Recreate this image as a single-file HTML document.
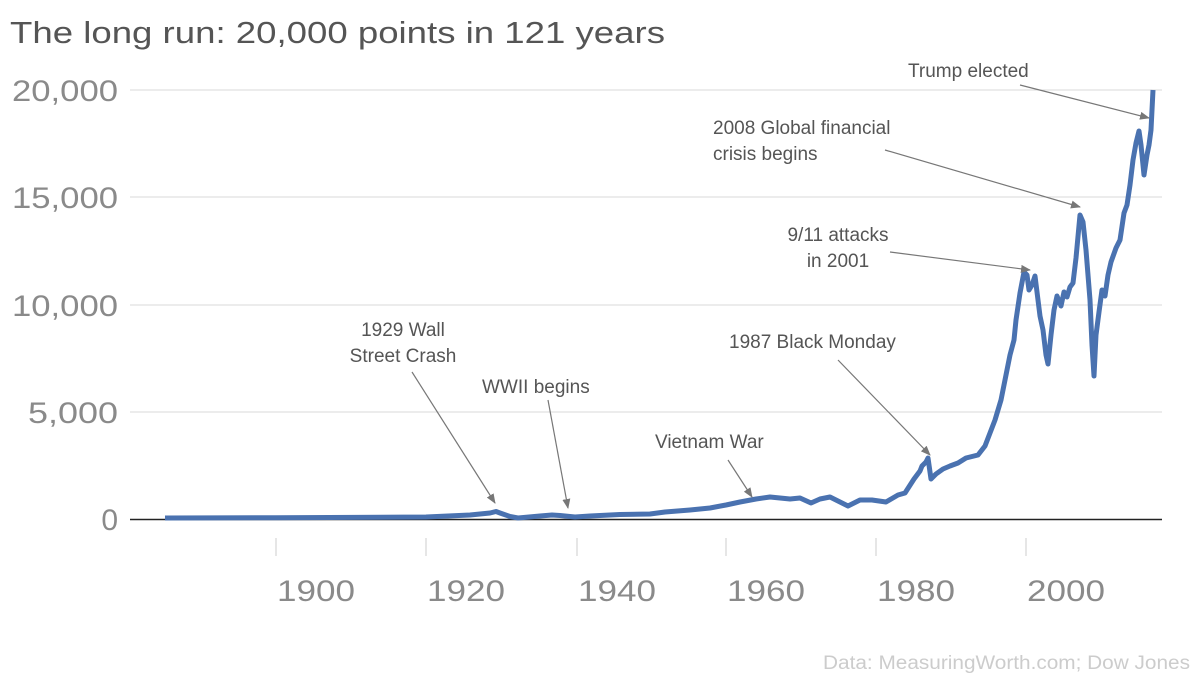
<!DOCTYPE html>
<html><head><meta charset="utf-8"><style>
body{margin:0;background:#fff;}
svg{display:block;font-family:"Liberation Sans",sans-serif;}
</style></head><body>
<svg width="1200" height="675" viewBox="0 0 1200 675" xmlns="http://www.w3.org/2000/svg">
<defs><marker id="ah" markerWidth="10" markerHeight="8" refX="9" refY="4" orient="auto" markerUnits="userSpaceOnUse"><path d="M0,0 L10,4 L0,8 z" fill="#777"/></marker></defs>
<text x="10" y="43" font-size="31" fill="#555" textLength="655" lengthAdjust="spacingAndGlyphs">The long run: 20,000 points in 121 years</text>
<g stroke="#d9d9d9" stroke-width="1">
<line x1="130" y1="90" x2="1162" y2="90"/><line x1="130" y1="197" x2="1162" y2="197"/>
<line x1="130" y1="305" x2="1162" y2="305"/><line x1="130" y1="412" x2="1162" y2="412"/>
</g>
<line x1="130" y1="519.5" x2="1162" y2="519.5" stroke="#222" stroke-width="1.5"/>
<g font-size="30" fill="#8a8a8a" text-anchor="end">
<text x="118" y="101" textLength="106" lengthAdjust="spacingAndGlyphs">20,000</text>
<text x="118" y="208" textLength="106" lengthAdjust="spacingAndGlyphs">15,000</text>
<text x="118" y="316" textLength="106" lengthAdjust="spacingAndGlyphs">10,000</text>
<text x="118" y="423" textLength="90" lengthAdjust="spacingAndGlyphs">5,000</text>
<text x="118" y="530">0</text>
</g>
<g stroke="#ccc" stroke-width="1">
<line x1="276" y1="538" x2="276" y2="556"/><line x1="426" y1="538" x2="426" y2="556"/>
<line x1="577" y1="538" x2="577" y2="556"/><line x1="726" y1="538" x2="726" y2="556"/>
<line x1="876" y1="538" x2="876" y2="556"/><line x1="1026" y1="538" x2="1026" y2="556"/>
</g>
<g font-size="30" fill="#8a8a8a">
<text x="277" y="601" textLength="78" lengthAdjust="spacingAndGlyphs">1900</text>
<text x="427" y="601" textLength="78" lengthAdjust="spacingAndGlyphs">1920</text>
<text x="578" y="601" textLength="78" lengthAdjust="spacingAndGlyphs">1940</text>
<text x="727" y="601" textLength="78" lengthAdjust="spacingAndGlyphs">1960</text>
<text x="877" y="601" textLength="78" lengthAdjust="spacingAndGlyphs">1980</text>
<text x="1027" y="601" textLength="78" lengthAdjust="spacingAndGlyphs">2000</text>
</g>
<polyline fill="none" stroke="#4a72b0" stroke-width="5" stroke-linejoin="round" points="
165,518 276,517.7 426,517 470,515 490,513 496,511.5 500,513 510,516.5 518,518 540,516 552,515 560,515.5 575,517 590,516 620,514.5 650,514 665,512 690,510 710,508 726,505 740,502 756,499 770,497 790,499 800,498 811,503 820,499 830,497 840,502 848,506 860,500 872,500 886,502 898,495 905,493 914,479 920,471 922,466 926,462 928,458 931,479 936,474 943,469 950,466 958,463 966,458 978,455 985,446 990,433 995,420 1001,400 1006,375 1010,355 1014,340 1016,320 1020,293 1024,272 1027,275 1029,290 1032,285 1035,276 1038,300 1040,316 1043,330 1046,355 1048,364 1051,335 1054,310 1057,296 1061,306 1064,292 1067,297 1070,287 1073,283 1076,258 1080,215 1083,222 1086,250 1088,275 1090,300 1092,345 1094,376 1096,335 1099,312 1102,290 1105,296 1108,275 1111,262 1116,248 1120,240 1124,213 1127,205 1130,185 1133,160 1136,143 1139,131 1141,145 1144,175 1147,155 1149,145 1151,130 1153,90"/>
<g stroke="#777" stroke-width="1.2" fill="none" marker-end="url(#ah)">
<line x1="1020" y1="85" x2="1149" y2="118"/>
<line x1="885" y1="150" x2="1080" y2="207"/>
<line x1="890" y1="252" x2="1030" y2="270"/>
<line x1="838" y1="360" x2="930" y2="455"/>
<line x1="412" y1="372" x2="495" y2="503"/>
<line x1="548" y1="400" x2="568" y2="508"/>
<line x1="728" y1="460" x2="752" y2="497"/>
</g>
<g font-size="19" fill="#555">
<text x="908" y="77">Trump elected</text>
<text x="713" y="134">2008 Global financial</text><text x="713" y="160">crisis begins</text>
<text x="838" y="241" text-anchor="middle">9/11 attacks</text><text x="838" y="267" text-anchor="middle">in 2001</text>
<text x="729" y="348">1987 Black Monday</text>
<text x="403" y="336" text-anchor="middle">1929 Wall</text><text x="403" y="362" text-anchor="middle">Street Crash</text>
<text x="482" y="393">WWII begins</text>
<text x="655" y="448">Vietnam War</text>
</g>
<text x="823" y="669" font-size="19" fill="#ccc" textLength="367" lengthAdjust="spacingAndGlyphs">Data: MeasuringWorth.com; Dow Jones</text>
</svg>
</body></html>
